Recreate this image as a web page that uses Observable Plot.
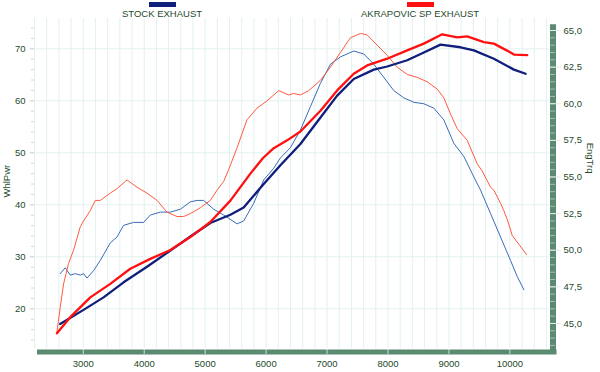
<!DOCTYPE html>
<html><head><meta charset="utf-8">
<script src="https://cdn.jsdelivr.net/npm/d3@7"></script>
<script src="https://cdn.jsdelivr.net/npm/@observablehq/plot@0.6"></script>
<style>
body{margin:0;background:#fff;font-family:"Liberation Sans",Arial,sans-serif;}
#wrap{position:relative;width:600px;height:372px;overflow:hidden;}
#legend{position:relative;height:14px;z-index:5;}
.sw{position:absolute;top:2px;width:27px;height:5px;}
.lt{position:absolute;top:8.6px;font-size:9.5px;line-height:9.5px;color:#1e4a2a;transform:translateX(-50%);white-space:nowrap;}
#plots{position:relative;width:600px;height:358px;}
#plots svg{position:absolute;left:0;top:0;}
</style></head><body>
<div id="wrap"><div id="legend"></div><div id="plots"></div></div>
<script>
// ---- data ----
const seriesNames = ["STOCK EXHAUST", "AKRAPOVIC SP EXHAUST"];
const seriesColors = ["#101e7c", "#ff1010"];
const torqueColors = ["#3a6cb8", "#ff5a40"];

const rpmTicks = [3000,4000,5000,6000,7000,8000,9000,10000];
const pwrTicks = [20,30,40,50,60,70];
const trqTicks = [45,47.5,50,52.5,55,57.5,60,62.5,65];

const stockPwrRpm = [2620,3005,3333,3662,4046,4429,4757,5085,5414,5632,5961,6235,6563,6892,7166,7438,7767,7987,8315,8588,8862,9190,9409,9737,10066,10258];
const stockPwr    = [17.1,19.8,22.2,25.1,28.1,31.2,33.9,36.5,38.1,39.5,44.0,47.6,51.7,56.8,61.0,64.2,66.0,66.6,67.8,69.3,70.8,70.3,69.7,68.1,66.0,65.2];

const akraPwrRpm = [2568,2787,3115,3443,3772,4100,4429,4757,5085,5414,5742,5950,6125,6345,6563,6892,7166,7438,7658,7987,8315,8588,8890,9136,9300,9573,9737,10011,10066,10286];
const akraPwr    = [15.3,18.4,22.2,24.8,27.7,29.6,31.3,33.8,36.7,40.8,46.0,49.0,50.9,52.4,54.1,58.1,62.0,65.2,66.8,68.1,69.7,71.0,72.8,72.2,72.4,71.3,71.0,69.3,68.9,68.8];

const stockTrqRpm = [2622,2704,2787,2870,2951,3005,3061,3169,3279,3443,3553,3662,3826,3990,4100,4264,4429,4593,4757,4867,4975,5140,5304,5524,5632,5796,5961,6125,6235,6399,6563,6727,6892,7056,7220,7438,7603,7767,7931,8095,8259,8424,8588,8752,8916,9080,9245,9409,9519,9683,9847,10011,10121,10230];
const stockTrq    = [48.4,48.8,48.3,48.4,48.3,48.4,48.1,48.6,49.3,50.5,50.9,51.7,51.9,51.9,52.4,52.6,52.6,52.8,53.3,53.4,53.4,52.8,52.4,51.8,52.0,53.2,54.8,55.6,56.3,57.0,58.2,59.8,61.4,62.7,63.2,63.6,63.4,62.7,61.8,60.9,60.4,60.1,60.0,59.7,58.9,57.3,56.4,55.0,54.1,52.5,50.9,49.3,48.2,47.3];

const akraTrqRpm = [2568,2622,2677,2759,2841,2951,3005,3115,3197,3279,3443,3553,3718,3882,4046,4210,4374,4539,4647,4757,4921,5085,5195,5304,5386,5524,5686,5852,6016,6207,6371,6453,6563,6700,6892,7056,7220,7384,7548,7658,7823,7987,8151,8315,8479,8643,8808,8916,9026,9136,9300,9464,9547,9683,9737,9847,9901,9957,10039,10148,10274];
const akraTrq    = [44.4,46.1,47.7,49.1,50.0,51.6,52.0,52.7,53.4,53.4,53.9,54.2,54.8,54.3,53.9,53.4,52.6,52.3,52.3,52.5,52.9,53.4,54.1,54.7,55.5,57.0,58.9,59.7,60.2,60.9,60.6,60.7,60.6,60.9,61.6,62.5,63.5,64.5,64.8,64.7,64.0,63.3,62.5,62.0,61.8,61.5,61.0,60.4,59.3,58.3,57.5,55.9,55.4,54.3,54.1,53.2,52.7,52.1,51.0,50.4,49.7];

// ---- layout ----
const W = 600, H = 358;
const xDomain = [2200, 10650];
const pwrDomain = [12.37, 75.83];
const trqDomain = [43.29, 65.82];
const textColor = "#1e4a2a", barColor = "#5a8a6f", gridColor = "#e2f1ee";
const comma = d => d3.format(".1f")(d).replace(".", ",");

// legend
const legend = document.getElementById("legend");
const legendX = [162, 420];
seriesNames.forEach((name, i) => {
  const sw = document.createElement("div");
  sw.className = "sw"; sw.style.left = (legendX[i] - 13) + "px"; sw.style.background = seriesColors[i];
  legend.appendChild(sw);
  const t = document.createElement("div");
  t.className = "lt"; t.style.left = legendX[i] + "px"; t.textContent = name;
  legend.appendChild(t);
});

const base = {
  width: W, height: H, marginTop: 4, marginBottom: 24, marginLeft: 34, marginRight: 51,
  style: {background: "transparent", fontFamily: "Liberation Sans, Arial, sans-serif", fontSize: "9.5px", color: textColor, overflow: "visible"}
};

// layer 1: grid
const grid = Plot.plot({
  ...base,
  x: {domain: xDomain, axis: null},
  y: {domain: pwrDomain, axis: null},
  marks: [
    Plot.gridX(d3.range(2200, 10601, 200), {stroke: gridColor, strokeOpacity: 1}),
    Plot.gridY(pwrTicks, {stroke: gridColor, strokeOpacity: 1})
  ]
});

// layer 2: torque (right axis)
const trq = Plot.plot({
  ...base,
  x: {domain: xDomain, axis: null},
  y: {domain: trqDomain},
  marks: [
    Plot.line(stockTrq, {x: stockTrqRpm, y: stockTrq, stroke: torqueColors[0], strokeWidth: 1}),
    Plot.line(akraTrq, {x: akraTrqRpm, y: akraTrq, stroke: torqueColors[1], strokeWidth: 1}),
    Plot.ruleX([xDomain[1]], {y1: 65.4, y2: trqDomain[0], stroke: barColor, strokeWidth: 6, dx: 3.5, insetBottom: -6}),
    Plot.axisY(d3.range(43.5, 65.6, 0.5), {anchor: "right", tickSize: 5, stroke: "#ffffff", strokeOpacity: 0.45, tickFormat: () => "", label: null}),
    Plot.axisY(trqTicks, {anchor: "right", tickSize: 11, tickPadding: 3, stroke: "#e4ede8", tickFormat: comma, label: null}),
    Plot.text(["EngTrq"], {y: () => 55.24, frameAnchor: "right", dx: 41, rotate: 90, fill: textColor})
  ]
});

// layer 3: power (left axis) + x axis
const pwr = Plot.plot({
  ...base,
  x: {domain: xDomain},
  y: {domain: pwrDomain},
  marks: [
    Plot.line(stockPwr, {x: stockPwrRpm, y: stockPwr, stroke: seriesColors[0], strokeWidth: 2.3}),
    Plot.line(akraPwr, {x: akraPwrRpm, y: akraPwr, stroke: seriesColors[1], strokeWidth: 2.3}),
    Plot.ruleY([pwrDomain[0]], {stroke: barColor, strokeWidth: 5, dy: 3.5, insetLeft: 3, insetRight: -7.5}),
    Plot.axisX(rpmTicks, {tickSize: 6, tickPadding: 6, stroke: "#ffffff", strokeOpacity: 0.7, tickFormat: d => String(d), label: null}),
    Plot.axisY(d3.range(14, 75, 2), {anchor: "left", tickSize: 3, stroke: "#d2d8d5", tickFormat: () => "", label: null}),
    Plot.axisY(pwrTicks, {anchor: "left", tickSize: 4.5, tickPadding: 4.5, stroke: "#d2d8d5", label: null}),
    Plot.text(["WhlPwr"], {y: () => 41.4, frameAnchor: "left", dx: -28, rotate: -90, fill: textColor})
  ]
});

const plots = document.getElementById("plots");
plots.appendChild(grid);
plots.appendChild(trq);
plots.appendChild(pwr);
</script>
</body></html>
